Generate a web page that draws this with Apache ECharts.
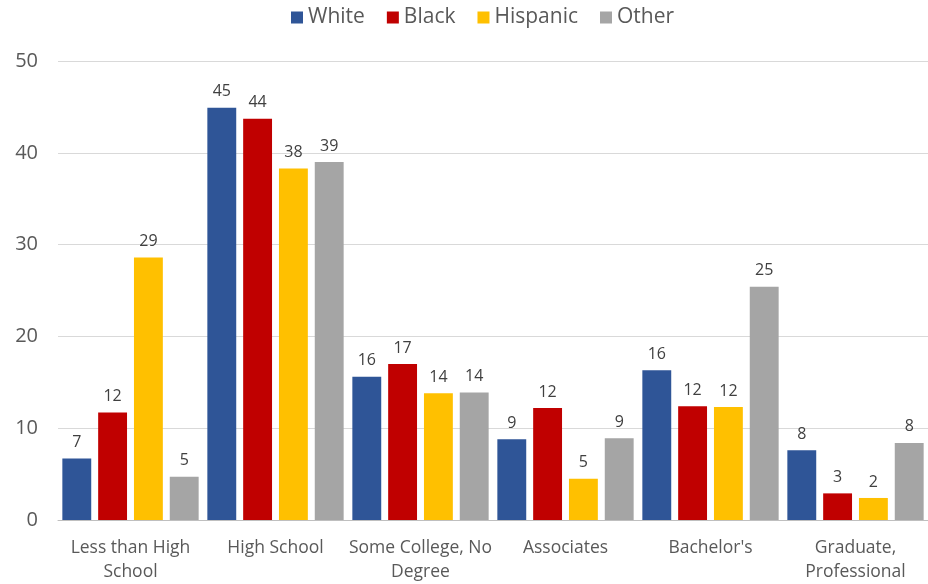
<!DOCTYPE html>
<html>
<head>
<meta charset="utf-8">
<script src="https://cdn.jsdelivr.net/npm/echarts@6/dist/echarts.min.js"></script>
<style>html,body{margin:0;padding:0;background:#fff}#c{width:928px;height:584px}</style>
</head>
<body>
<div id="c"></div>
<script>
const categories = ["Less than High\nSchool", "High School", "Some College, No\nDegree", "Associates", "Bachelor's", "Graduate,\nProfessional"];
const white =    [6.7, 44.9, 15.6, 8.8, 16.3, 7.6];
const black =    [11.7, 43.7, 17.0, 12.2, 12.4, 2.9];
const hispanic = [28.6, 38.3, 13.8, 4.5, 12.3, 2.4];
const other =    [4.7, 39.0, 13.9, 8.9, 25.4, 8.4];
const yTicks = [0, 10, 20, 30, 40, 50];

const font = "'Open Sans', 'Noto Sans', sans-serif";
const chart = echarts.init(document.getElementById('c'), null, {renderer: 'canvas'});
function mk(name, data, color) {
  return {
    name, type: 'bar', data,
    itemStyle: {color},
    barGap: '24%', barCategoryGap: '6%',
    label: {show: true, position: 'top', distance: 8, color: '#404040', fontSize: 16, fontFamily: font,
      formatter: p => Math.round(p.value)}
  };
}
chart.setOption({
  animation: false,
  textStyle: {fontFamily: font},
  legend: {
    top: 2, left: 286, icon: 'rect', itemWidth: 12, itemHeight: 12, itemGap: 22,
    textStyle: {fontSize: 21, color: '#595959', fontFamily: font}
  },
  grid: {left: 58, top: 61, width: 876, bottom: 63},
  xAxis: {
    type: 'category', data: categories,
    axisLine: {lineStyle: {color: '#bfbfbf'}},
    axisTick: {show: false},
    axisLabel: {interval: 0, color: '#595959', fontSize: 17.5, fontFamily: font, margin: 16, lineHeight: 24}
  },
  yAxis: {
    type: 'value', min: yTicks[0], max: yTicks[yTicks.length-1], interval: 10,
    axisLine: {show: false}, axisTick: {show: false},
    axisLabel: {color: '#595959', fontSize: 20, fontFamily: font, margin: 20},
    splitLine: {lineStyle: {color: '#d9d9d9'}}
  },
  series: [
    mk('White', white, '#2F5597'),
    mk('Black', black, '#C00000'),
    mk('Hispanic', hispanic, '#FFC000'),
    mk('Other', other, '#A5A5A5')
  ]
});
</script>
</body>
</html>
